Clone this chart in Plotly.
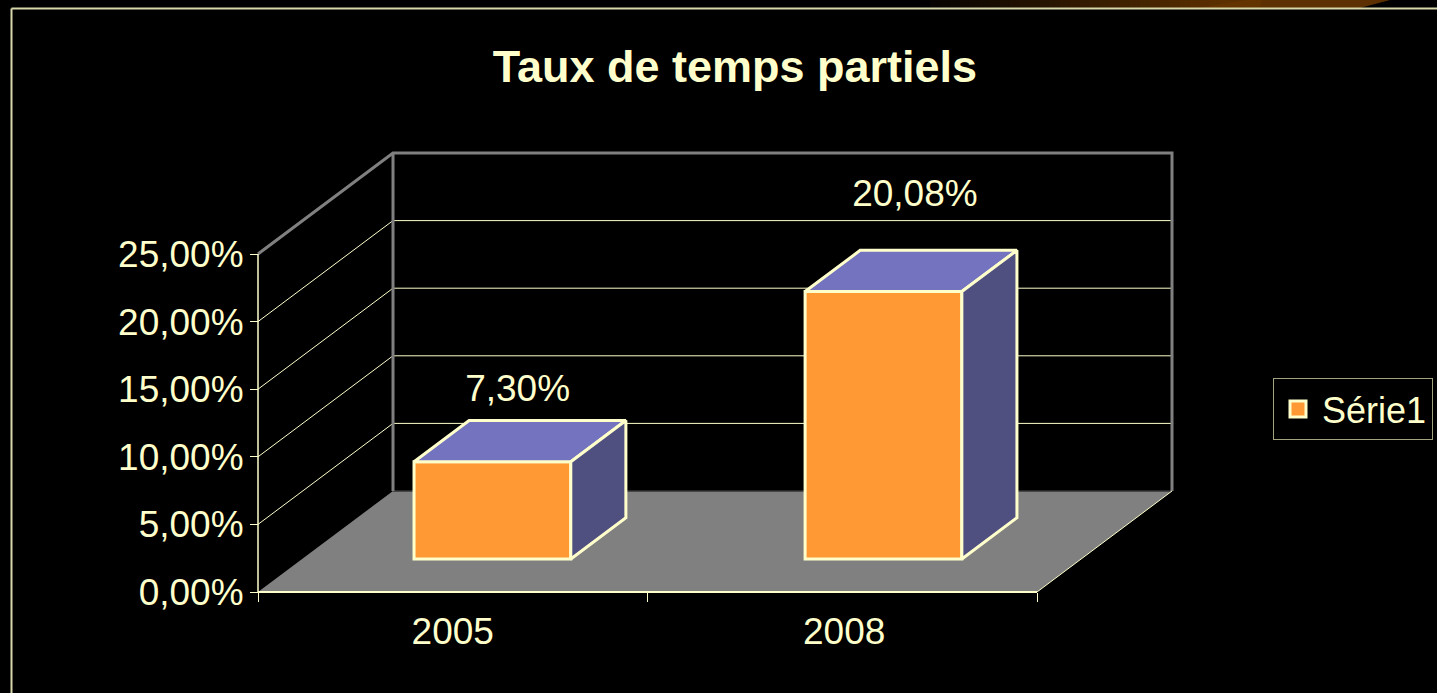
import plotly.graph_objects as go

# ---- data ----
categories = ["2005", "2008"]
values = [0.0730, 0.2008]
series_name = "Série1"
title_text = "Taux de temps partiels"
y_ticks = [0, 0.05, 0.10, 0.15, 0.20, 0.25]

# ---- style ----
CREAM = "#FFFFCC"
BG = "#000000"
ORANGE = "#FF9933"
TOP = "#7373BF"
SIDE = "#4F4F80"
FLOOR = "#808080"
FONT = "Liberation Sans, Arial, sans-serif"
W, H = 1437, 693
L, R, T, B = 246, 1184, 141, 604        # plot area in page pixels (a bit larger than the frame)
OX, OY = 258, 592                       # page pixel of the axes' origin
PX_X = 389.5                            # pixels per category
PX_Y = 1352.0                           # pixels per 100 %
DEPTH_X, DEPTH_Y = 135 / PX_X, 101 / PX_Y   # shift of the back plane, axis units
Z0, Z1 = 0.327, 0.735                   # depth span of the bars
BAR_W, BAR_SCALE = 0.4025, 0.985
BAR_SHIFT = [-0.0115, -0.0075]
LABEL_DX = [0.178, 0.194]
LABEL_LIFT = [0.0750, 0.0913]
TICK_SHIFT = [0.0, 0.005]
Y_TOP = y_ticks[-1]


def px(x):
    """Page pixel column -> paper fraction of the plot area."""
    return (x - L) / (R - L)


def py(y):
    """Page pixel row -> paper fraction of the plot area."""
    return 1 - (y - T) / (B - T)


def pr(x, y, z):
    """Oblique projection of (category position, value, depth) on the 2D axes."""
    return x + z * DEPTH_X, y + z * DEPTH_Y


def poly(points):
    xs, ys = zip(*[pr(*p) for p in points])
    return list(xs) + [xs[0]], list(ys) + [ys[0]]


positions = [i + 0.5 for i in range(len(categories))]
n = len(categories)
fig = go.Figure()

# front faces
fig.add_trace(go.Bar(
    x=[pr(p + s, 0, Z0)[0] for p, s in zip(positions, BAR_SHIFT)],
    y=[v * BAR_SCALE for v in values],
    base=[pr(0, 0, Z0)[1]] * n,
    width=[BAR_W] * n,
    marker=dict(color=ORANGE, line=dict(color=CREAM, width=3)),
    showlegend=False, hoverinfo="skip",
))

# top and side faces
for p, s, v in zip(positions, BAR_SHIFT, values):
    a, b = p + s - BAR_W / 2, p + s + BAR_W / 2
    h = v * BAR_SCALE
    for pts, col in (
        ([(a, h, Z0), (b, h, Z0), (b, h, Z1), (a, h, Z1)], TOP),
        ([(b, 0, Z0), (b, 0, Z1), (b, h, Z1), (b, h, Z0)], SIDE),
    ):
        xs, ys = poly(pts)
        fig.add_trace(go.Scatter(
            x=xs, y=ys, mode="lines", fill="toself", fillcolor=col,
            line=dict(color=CREAM, width=3), showlegend=False,
            hoverinfo="skip",
        ))

# wall frame and axis lines
frame = [
    ([(0, Y_TOP, 0), (0, Y_TOP, 1), (n, Y_TOP, 1), (n, 0, 1)], FLOOR, 3),
    ([(0, Y_TOP, 1), (0, 0, 1)], FLOOR, 3),
    ([(0, 0, 0), (0, Y_TOP, 0)], CREAM, 1.5),
    ([(0, 0, 0), (n, 0, 0)], CREAM, 2),
    ([(n, 0, 0), (n, 0, 1)], CREAM, 1),
]
for pts, col, lw in frame:
    xs, ys = zip(*[pr(*q) for q in pts])
    fig.add_trace(go.Scatter(
        x=xs, y=ys, mode="lines", line=dict(color=col, width=lw),
        showlegend=False, hoverinfo="skip",
    ))

# value labels
fig.add_trace(go.Scatter(
    x=[p + s + d for p, s, d in zip(positions, BAR_SHIFT, LABEL_DX)],
    y=[v + d for v, d in zip(values, LABEL_LIFT)],
    mode="text",
    text=[f"{v * 100:.2f}%".replace(".", ",") for v in values],
    textposition="middle center",
    textfont=dict(color=CREAM, size=37, family=FONT),
    showlegend=False, hoverinfo="skip", cliponaxis=False,
))

# legend entry
fig.add_trace(go.Scatter(
    x=[None], y=[None], mode="markers", name=series_name,
    marker=dict(symbol="square", size=16, color=ORANGE,
                line=dict(color=CREAM, width=3)),
))

# floor and gridlines behind the bars
shapes = []
fx, fy = poly([(0, 0, 0), (n, 0, 0), (n, 0, 1), (0, 0, 1)])
path = "M" + "L".join(f"{a},{b}" for a, b in zip(fx[:-1], fy[:-1])) + "Z"
shapes.append(dict(type="path", path=path, xref="x", yref="y", layer="below",
                   fillcolor=FLOOR, line=dict(width=0)))
bx0, by0 = pr(0, 0, 1)
bx1, _ = pr(n, 0, 1)
shapes.append(dict(type="line", xref="x", yref="y", layer="below",
                   x0=bx0, x1=bx1, y0=by0, y1=by0,
                   line=dict(color="#333333", width=1.5)))
for t in y_ticks[1:-1]:
    x0, y0 = pr(0, t, 0)
    x1, y1 = pr(0, t, 1)
    x2, _ = pr(n, t, 1)
    shapes.append(dict(type="line", xref="x", yref="y", layer="below",
                       x0=x0, y0=y0, x1=x1, y1=y1, line=dict(color=CREAM, width=1)))
    shapes.append(dict(type="line", xref="x", yref="y", layer="below",
                       x0=x1, y0=y1, x1=x2, y1=y1, line=dict(color=CREAM, width=1)))

# slide backdrop: brown band above the frame, fading from black
STEPS = 44
for i in range(STEPS):
    f = min(1.0, (i + 1) / STEPS * 1.45)
    col = f"rgb({int(92 * f)},{int(48 * f)},0)"
    xa, xb = 920 + i * 10, 920 + (i + 1) * 10 + 1
    shapes.append(dict(type="rect", xref="paper", yref="paper", layer="below",
                       x0=px(xa), x1=px(xb), y0=py(8), y1=py(0),
                       fillcolor=col, line=dict(width=0)))
shapes.append(dict(type="path", xref="paper", yref="paper", layer="below",
                   path=f"M{px(1360)},{py(8)}L{px(1390)},{py(0)}L{px(1360)},{py(0)}Z",
                   fillcolor="#5C3000", line=dict(width=0)))
shapes.append(dict(type="path", xref="paper", yref="paper", layer="below",
                   path=f"M{px(1200)},{py(8)}L{px(1260)},{py(8)}L{px(1262)},{py(0)}L{px(1245)},{py(0)}Z",
                   fillcolor="#633400", line=dict(width=0)))
# slide frame
shapes.append(dict(type="line", xref="paper", yref="paper", layer="below",
                   x0=px(11.5), x1=px(W), y0=py(8.5), y1=py(8.5),
                   line=dict(color="#D8D8AC", width=2)))
shapes.append(dict(type="line", xref="paper", yref="paper", layer="below",
                   x0=px(11.5), x1=px(11.5), y0=py(H), y1=py(8.5),
                   line=dict(color="#D8D8AC", width=2)))

fig.update_layout(
    width=W, height=H, autosize=False,
    margin=dict(l=L, r=W - R, t=T, b=H - B, pad=0, autoexpand=False),
    paper_bgcolor=BG, plot_bgcolor=BG,
    separators=", ",
    font=dict(family=FONT, color=CREAM, size=36),
    title=dict(text=f"<b>{title_text}</b>", font=dict(size=45, color=CREAM, family=FONT),
               x=735 / W, xref="container", xanchor="center",
               y=1 - 66 / H, yref="container", yanchor="middle"),
    xaxis=dict(
        range=[(L - OX) / PX_X, (R - OX) / PX_X], showgrid=False, zeroline=False, showline=False,
        anchor="free", position=(B - OY) / (B - T),
        tickmode="array", tickvals=[p + s for p, s in zip(positions, TICK_SHIFT)],
        ticktext=categories,
        ticks="", ticklabelstandoff=14,
        tickfont=dict(size=37, color=CREAM, family=FONT),
        minor=dict(tickmode="array", tickvals=list(range(n + 1)), ticks="outside",
                   ticklen=9, tickwidth=1, tickcolor=CREAM, showgrid=False),
    ),
    yaxis=dict(
        range=[-(B - OY) / PX_Y, (OY - T) / PX_Y], showgrid=False, zeroline=False, showline=False,
        anchor="free", position=(OX - L) / (R - L),
        tickmode="array", tickvals=y_ticks, tickformat=".2%",
        ticks="outside", ticklen=8, tickwidth=1, tickcolor=CREAM,
        ticklabelstandoff=-1,
        tickfont=dict(size=37, color=CREAM, family=FONT),
    ),
    legend=dict(
        x=px(1273), y=py(378), xanchor="left", yanchor="top",
        bgcolor=BG, bordercolor="#A3A380", borderwidth=1,
        font=dict(size=36, color=CREAM, family=FONT),
        itemwidth=38, entrywidth=175, entrywidthmode="pixels",
        itemclick=False, itemdoubleclick=False,
    ),
    showlegend=True,
    barmode="overlay",
    shapes=shapes,
)

fig.write_html(
    "out.html",
    config=dict(displayModeBar=False),
    post_script="document.body.style.margin='0';document.body.style.background='#000';"
                "document.body.style.overflow='hidden';",
)
